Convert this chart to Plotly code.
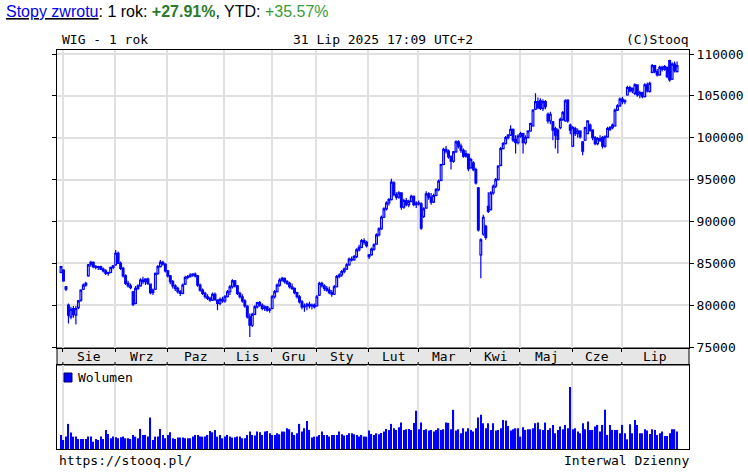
import plotly.graph_objects as go

# ---------------- data (index values in thousands of points) ----------------
months = ["Sie", "Wrz", "Paz", "Lis", "Gru", "Sty", "Lut", "Mar", "Kwi", "Maj", "Cze", "Lip"]
# index of first trading day of each month (trading day 0 = 31 Jul 2024)
month_start = [1, 22, 43, 66, 85, 103, 124, 144, 165, 185, 206, 226]
y_ticks = [75000, 80000, 85000, 90000, 95000, 100000, 105000, 110000]

open_k = [
    83.9, 84.2, 82.2, 80.0, 78.6, 79.6, 78.8, 79.7, 80.6, 81.9, 82.4, 83.5, 84.9, 85.1, 84.6, 84.5, 84.6, 84.3, 84.1, 83.8, 83.9, 84.5,
    84.8, 86.2, 85.0, 84.4, 83.5, 82.6, 82.3, 81.6, 80.2, 82.0, 82.3, 83.0, 82.8, 83.1, 82.5, 81.5, 81.9, 83.8, 84.6, 85.1, 84.9,
    84.1, 83.5, 82.8, 82.3, 82.0, 81.6, 81.4, 82.5, 83.3, 83.4, 83.6, 83.7, 83.5, 82.4, 81.8, 81.4, 81.0, 80.8, 80.6, 81.3, 80.6, 80.2, 80.7,
    80.5, 81.0, 81.6, 82.2, 82.9, 82.3, 81.4, 81.0, 80.5, 79.9, 78.6, 77.6, 78.9, 79.8, 80.3, 80.0, 79.6, 79.8, 79.4,
    79.6, 81.0, 81.6, 82.4, 83.0, 83.2, 82.8, 82.6, 82.2, 82.0, 81.5, 81.0, 80.4, 79.8, 79.9, 80.1, 79.9, 80.0,
    79.9, 81.2, 82.6, 82.3, 82.0, 81.8, 81.5, 81.3, 82.2, 83.4, 83.6, 84.0, 84.3, 84.8, 85.5, 85.4, 85.8, 86.6, 86.9, 87.7, 87.5,
    86.0, 86.0, 86.7, 87.3, 88.4, 89.1, 90.5, 91.5, 92.2, 92.6, 94.6, 93.2, 92.9, 93.4, 91.7, 92.5, 92.0, 92.4, 93.0, 92.0,
    92.2, 92.1, 90.6, 91.6, 93.3, 92.9, 92.3, 93.1, 93.8, 94.9, 96.8, 98.6, 98.4, 97.7, 97.2, 98.3, 99.5, 99.0, 98.5, 97.8, 98.0,
    96.4, 97.0, 96.2, 94.0, 86.0, 88.5, 89.4, 91.8, 91.4, 93.4, 94.2, 95.0, 96.7, 98.7, 99.3, 100.0, 100.3, 101.0, 99.8, 99.4,
    100.2, 100.5, 99.4, 100.0, 100.8, 101.4, 103.4, 104.3, 104.4, 103.5, 104.3, 102.8, 102.0, 101.9, 101.1, 100.9, 101.2, 102.2, 102.0, 104.5, 101.5,
    99.0, 101.1, 100.5, 100.8, 99.5, 99.7, 100.5, 101.5, 100.9, 100.0, 99.3, 99.9, 100.0, 99.0, 100.1, 101.0, 101.2, 101.4, 103.3, 103.8,
    104.6, 104.3, 105.1, 106.0, 105.6, 105.3, 106.3, 105.1, 105.4, 104.9, 106.3, 105.5, 107.8, 108.6, 107.9, 107.5, 108.4, 108.2, 108.4, 109.2, 107.0, 108.8, 107.9,
]
high_k = [
    84.7, 84.3, 82.3, 80.2, 79.8, 79.9, 79.9, 80.6, 81.9, 82.6, 82.8, 84.9, 85.3, 85.2, 84.8, 84.7, 84.7, 84.5, 84.3, 84.0, 84.6, 84.8,
    86.6, 86.4, 85.2, 84.6, 83.7, 82.9, 82.6, 81.7, 82.3, 82.5, 83.2, 83.4, 83.2, 83.3, 82.6, 82.0, 83.9, 84.8, 85.4, 85.3, 85.0,
    84.2, 83.6, 83.0, 82.5, 82.2, 81.8, 82.6, 83.5, 83.6, 83.8, 83.8, 83.9, 83.6, 82.6, 82.0, 81.6, 81.3, 81.0, 81.5, 81.5, 80.7, 80.9, 81.0,
    81.2, 81.8, 82.4, 83.1, 83.0, 82.4, 81.6, 81.3, 80.7, 80.0, 79.0, 79.1, 80.0, 80.4, 80.5, 80.2, 80.0, 79.9, 79.7,
    81.2, 81.8, 82.6, 83.2, 83.4, 83.3, 83.0, 82.8, 82.6, 82.1, 81.6, 81.2, 80.6, 80.2, 80.3, 80.4, 80.2, 80.2,
    81.2, 82.8, 82.8, 82.5, 82.3, 82.2, 81.8, 82.4, 83.6, 83.8, 84.2, 84.5, 85.0, 85.7, 85.8, 86.0, 86.8, 87.2, 87.9, 88.0, 87.7,
    86.1, 86.9, 87.4, 88.6, 89.3, 90.7, 91.7, 92.4, 92.8, 95.1, 94.8, 93.5, 93.6, 93.5, 92.7, 92.8, 92.6, 93.2, 93.1, 92.4,
    92.5, 92.3, 91.7, 93.6, 93.5, 93.4, 93.3, 94.0, 95.0, 96.9, 98.8, 99.0, 98.6, 97.9, 98.4, 99.7, 99.7, 99.3, 98.7, 98.5, 98.1,
    97.6, 97.2, 96.4, 94.1, 88.0, 90.8, 89.6, 93.5, 93.6, 94.4, 95.2, 96.7, 98.9, 99.5, 100.2, 100.4, 101.5, 101.1, 100.3, 100.4,
    100.7, 100.6, 100.3, 100.9, 101.8, 103.4, 105.3, 104.8, 104.7, 104.6, 104.5, 103.0, 103.1, 102.0, 101.3, 101.1, 102.4, 103.2, 104.6, 104.6, 101.7,
    101.4, 101.3, 101.1, 100.9, 99.6, 101.3, 102.1, 101.7, 101.0, 100.2, 100.1, 100.3, 100.2, 100.3, 101.3, 101.4, 101.7, 103.5, 104.0, 104.8,
    104.9, 104.6, 106.2, 106.2, 106.0, 106.5, 106.4, 105.6, 105.5, 106.5, 106.6, 106.7, 108.8, 108.7, 108.2, 108.6, 108.6, 108.7, 108.5, 109.3, 109.0, 109.1, 109.1,
]
low_k = [
    83.8, 82.8, 81.7, 77.8, 78.3, 78.5, 77.7, 79.5, 80.4, 81.8, 82.2, 83.4, 84.6, 84.4, 84.3, 84.2, 84.2, 83.9, 83.6, 83.5, 83.8, 84.3,
    84.7, 84.9, 84.2, 83.3, 82.4, 82.1, 81.9, 79.9, 80.1, 81.8, 82.2, 82.5, 82.4, 82.4, 81.3, 81.2, 81.8, 83.6, 84.5, 84.7, 83.9,
    83.3, 82.5, 82.0, 81.7, 81.4, 81.1, 81.3, 82.4, 83.1, 83.3, 83.4, 83.3, 82.2, 81.6, 81.2, 80.8, 80.6, 80.4, 80.5, 80.5, 79.4, 80.0, 80.3,
    80.3, 80.9, 81.2, 82.0, 82.1, 81.2, 80.8, 80.3, 79.7, 78.4, 76.2, 77.4, 78.8, 79.6, 79.8, 79.4, 79.3, 79.2, 79.1,
    79.5, 80.8, 81.5, 82.2, 82.8, 82.6, 82.4, 82.0, 81.8, 81.3, 80.8, 80.2, 79.5, 79.2, 79.4, 79.6, 79.5, 79.6,
    79.8, 81.1, 82.1, 81.7, 81.6, 81.3, 81.0, 81.2, 82.1, 83.2, 83.4, 83.8, 84.2, 84.7, 85.2, 85.3, 85.6, 86.4, 86.8, 87.2, 86.9,
    85.5, 85.9, 86.5, 87.2, 88.2, 89.0, 90.4, 91.3, 91.9, 92.5, 93.0, 92.6, 92.7, 91.4, 91.5, 91.8, 91.7, 92.3, 91.8, 91.6,
    91.9, 89.0, 90.4, 91.5, 92.6, 92.0, 92.2, 93.0, 93.6, 94.8, 96.7, 98.1, 97.5, 96.2, 97.0, 98.2, 98.7, 98.2, 97.6, 97.6, 96.0,
    96.3, 96.0, 94.4, 88.8, 83.2, 88.3, 87.8, 91.0, 91.3, 93.2, 94.0, 94.9, 96.6, 98.6, 99.2, 99.8, 100.2, 99.5, 98.1, 99.2,
    100.0, 98.1, 99.2, 99.9, 100.7, 101.3, 103.3, 103.4, 103.3, 103.2, 103.4, 101.7, 101.6, 99.7, 98.7, 98.1, 101.0, 102.0, 101.9, 101.8, 100.4,
    98.9, 100.2, 100.0, 99.9, 97.9, 99.6, 100.4, 100.7, 99.7, 99.1, 99.1, 99.5, 98.7, 98.8, 100.0, 100.8, 101.0, 101.3, 103.2, 103.7,
    104.0, 104.0, 105.0, 105.4, 105.3, 105.1, 104.9, 104.7, 104.7, 104.8, 105.4, 105.4, 107.7, 107.7, 107.3, 107.4, 107.9, 108.0, 107.1, 106.7, 106.9, 107.8, 107.8,
]
close_k = [
    84.6, 82.9, 81.9, 78.8, 79.5, 78.9, 79.6, 80.5, 81.8, 82.4, 82.6, 84.8, 85.1, 84.6, 84.5, 84.6, 84.3, 84.1, 83.8, 83.9, 84.5, 84.7,
    86.2, 85.0, 84.4, 83.5, 82.6, 82.3, 82.1, 80.1, 82.0, 82.3, 83.0, 82.8, 83.1, 82.6, 81.5, 81.8, 83.8, 84.6, 85.1, 84.9, 84.1,
    83.5, 82.8, 82.3, 82.0, 81.6, 81.4, 82.4, 83.3, 83.4, 83.6, 83.7, 83.5, 82.4, 81.8, 81.4, 81.0, 80.8, 80.6, 81.3, 80.7, 80.2, 80.7, 80.5,
    81.0, 81.6, 82.2, 82.9, 82.3, 81.4, 81.0, 80.5, 79.9, 78.6, 77.6, 78.9, 79.8, 80.3, 80.0, 79.6, 79.8, 79.4, 79.5,
    81.0, 81.6, 82.4, 83.0, 83.2, 82.8, 82.6, 82.2, 82.0, 81.5, 81.0, 80.4, 79.8, 79.9, 80.1, 79.9, 80.0, 79.8,
    81.0, 82.6, 82.3, 82.0, 81.8, 81.5, 81.3, 82.2, 83.4, 83.6, 84.0, 84.3, 84.8, 85.5, 85.4, 85.8, 86.6, 86.9, 87.7, 87.5, 87.1,
    85.8, 86.7, 87.2, 88.4, 89.1, 90.5, 91.5, 92.2, 92.6, 94.7, 93.2, 92.9, 93.4, 91.7, 92.5, 92.0, 92.4, 93.0, 92.0, 92.2,
    92.1, 89.2, 91.5, 93.3, 92.9, 92.3, 93.1, 93.8, 94.8, 96.8, 98.6, 98.4, 97.7, 97.2, 98.3, 99.5, 99.0, 98.5, 97.8, 98.1, 96.3,
    97.4, 96.2, 94.6, 89.0, 87.8, 90.5, 88.1, 91.2, 93.4, 94.2, 95.0, 96.6, 98.7, 99.3, 100.0, 100.3, 101.0, 99.7, 99.4, 100.2,
    100.5, 99.4, 100.0, 100.8, 101.7, 103.3, 104.3, 103.6, 103.5, 104.3, 103.7, 102.0, 102.8, 100.9, 100.3, 99.8, 102.2, 103.0, 104.4, 102.0, 100.9,
    101.2, 100.5, 100.8, 100.1, 98.4, 101.2, 102.0, 100.9, 100.0, 99.3, 99.9, 99.7, 99.0, 100.1, 101.1, 101.2, 101.5, 103.3, 103.8, 104.6,
    104.3, 104.4, 106.0, 105.6, 105.9, 106.3, 105.1, 105.4, 104.9, 106.3, 105.6, 106.5, 108.6, 107.9, 107.5, 108.4, 108.2, 108.5, 107.3, 106.9, 108.8, 108.0, 108.6,
]
volume = [
    42, 27, 37, 75, 49, 37, 37, 30, 30, 30, 30, 37, 37, 22, 30, 27, 37, 30, 57, 45, 32, 37,
    35, 32, 35, 37, 32, 32, 30, 42, 37, 32, 60, 42, 42, 37, 94, 27, 37, 37, 60, 42, 32,
    42, 50, 32, 30, 34, 34, 34, 32, 32, 32, 37, 42, 42, 37, 37, 37, 42, 54, 50, 57, 37, 42, 32,
    37, 42, 37, 34, 35, 37, 37, 32, 32, 42, 52, 42, 40, 52, 50, 42, 52, 54, 47,
    42, 42, 47, 44, 52, 52, 62, 59, 50, 42, 47, 75, 52, 62, 84, 57, 34, 37,
    37, 42, 52, 42, 42, 37, 42, 42, 42, 52, 44, 40, 42, 47, 47, 44, 42, 37, 42, 37, 37,
    55, 45, 42, 47, 44, 48, 52, 60, 57, 75, 62, 57, 65, 79, 57, 59, 60, 57, 78, 114,
    59, 79, 57, 59, 55, 57, 52, 57, 62, 57, 59, 79, 78, 59, 117, 55, 59, 47, 62, 52, 62,
    57, 52, 62, 94, 102, 77, 62, 77, 57, 77, 55, 57, 62, 87, 85, 69, 55, 59, 62, 62,
    37, 65, 57, 59, 59, 62, 77, 79, 59, 57, 79, 57, 62, 72, 47, 57, 67, 59, 72, 62, 185,
    59, 62, 52, 47, 77, 59, 82, 57, 57, 67, 72, 52, 72, 117, 42, 72, 57, 57, 57, 47,
    72, 47, 29, 74, 47, 87, 72, 47, 47, 59, 55, 45, 59, 57, 42, 47, 52, 39, 39, 47, 59, 59, 52,
]
n = len(close_k)
assert len(open_k) == n and len(high_k) == n and len(low_k) == n and len(volume) == n

# ---------------- layout geometry (page pixels) ----------------
W, H = 748, 472
L, R, T, B = 57, 689, 50, 449             # outer plot box
main_bot, band_bot = 348, 365
ph = B - T
pw = R - L
def py(p):  # pixel y -> paper y
    return (B - p) / ph
def px(p):  # pixel x -> paper x
    return (p - L) / pw

x_lo, x_hi = -1.61, 252.8
BLUE = "#0000ff"
MONO = "DejaVu Sans Mono, monospace"
GRID = "#e0e0e0"

idx = list(range(n))
fig = go.Figure()
fig.add_trace(go.Candlestick(
    x=idx,
    open=[v * 1000 for v in open_k], high=[v * 1000 for v in high_k],
    low=[v * 1000 for v in low_k], close=[v * 1000 for v in close_k],
    increasing=dict(line=dict(color=BLUE, width=1.2), fillcolor="#ffffff"),
    decreasing=dict(line=dict(color=BLUE, width=1.2), fillcolor=BLUE),
    whiskerwidth=0, showlegend=False, hoverinfo="skip",
    xaxis="x", yaxis="y",
))
fig.add_trace(go.Bar(
    x=idx, y=volume, width=0.5, marker=dict(color=BLUE, line=dict(width=0)),
    showlegend=False, hoverinfo="skip", xaxis="x2", yaxis="y2",
))

grid_x = [s - 0.25 for s in month_start]
fig.update_layout(
    width=W, height=H,
    margin=dict(l=L, r=W - R, t=T, b=H - B, pad=0, autoexpand=False),
    paper_bgcolor="white", plot_bgcolor="white",
    boxgap=0.0,
    showlegend=False,
    xaxis=dict(domain=[0, 1], anchor="y", range=[x_lo, x_hi], rangeslider=dict(visible=False),
               tickvals=grid_x, showticklabels=False, ticks="outside", ticklen=3, tickcolor="black",
               showgrid=True, gridcolor=GRID, gridwidth=2, zeroline=False, automargin=False,
               showline=True, linecolor="black", linewidth=1, mirror=True),
    yaxis=dict(domain=[py(main_bot), 1], anchor="x", side="right",
               range=[75000 - 1000 / 8.3714, 110000 + 4 * 1000 / 8.3714],
               tickvals=y_ticks, ticktext=[str(v) for v in y_ticks],
               ticks="outside", ticklen=4, tickcolor="black", automargin=False,
               tickfont=dict(family=MONO, size=13, color="black"),
               showgrid=True, gridcolor=GRID, gridwidth=2, zeroline=False,
               showline=True, linecolor="black", linewidth=1, mirror="ticks"),
    xaxis2=dict(domain=[0, 1], anchor="y2", range=[x_lo, x_hi], automargin=False,
                tickvals=grid_x, showticklabels=False, ticks="",
                showgrid=True, gridcolor=GRID, gridwidth=2, zeroline=False,
                showline=True, linecolor="black", linewidth=1, mirror=True),
    yaxis2=dict(domain=[0, py(band_bot)], anchor="x2", range=[0, 251], automargin=False,
                showticklabels=False, ticks="", showgrid=False, zeroline=False,
                showline=True, linecolor="black", linewidth=1, mirror=True),
)

shapes = [
    dict(type="rect", xref="paper", yref="paper", x0=0, x1=1, y0=py(band_bot), y1=py(main_bot),
         fillcolor="#e6e6e6", line=dict(color="black", width=1), layer="below"),
    dict(type="rect", xref="paper", yref="paper", x0=px(64), x1=px(72), y0=py(382), y1=py(373),
         fillcolor=BLUE, line=dict(color="#000066", width=1)),
]
for g in grid_x:
    shapes.append(dict(type="line", xref="x", yref="paper", x0=g, x1=g,
                       y0=py(band_bot), y1=py(band_bot - 3), line=dict(color="black", width=1)))

annotations = []
edges = month_start + [x_hi + 0.25]
for k, m in enumerate(months):
    xm = (edges[k] + edges[k + 1]) / 2 - 0.25
    annotations.append(dict(x=xm, y=py(356.5), xref="x", yref="paper", text=m, showarrow=False,
                            font=dict(family=MONO, size=13, color="black"), xanchor="center", yanchor="middle"))

def txt(x, y, text, anchor="left", font=None):
    annotations.append(dict(x=px(x), y=py(y), xref="paper", yref="paper", text=text, showarrow=False,
                            xanchor=anchor, yanchor="middle",
                            font=font or dict(family=MONO, size=13, color="black")))

txt(60, 40, "WIG - 1 rok")
txt(383, 40, "31 Lip 2025 17:09 UTC+2", anchor="center")
txt(691, 40, "(C)Stooq", anchor="right")
txt(76, 377, "Wolumen")
txt(57, 460, "https://stooq.pl/")
txt(691, 460, "Interwal Dzienny", anchor="right")
txt(4, 12,
    "<u><span style='color:#0000ee'>Stopy zwrotu</span></u>: 1 rok: "
    "<b><span style='color:#2b7b2b'>+27.91%</span></b>, YTD: "
    "<span style='color:#3a9a3a'>+35.57%</span>",
    font=dict(family="Liberation Sans, Arial, sans-serif", size=16, color="black"))

fig.update_layout(shapes=shapes, annotations=annotations)
fig.write_html("out.html", config={"displayModeBar": False},
               post_script="document.body.style.margin='0';document.body.style.overflow='hidden';")
